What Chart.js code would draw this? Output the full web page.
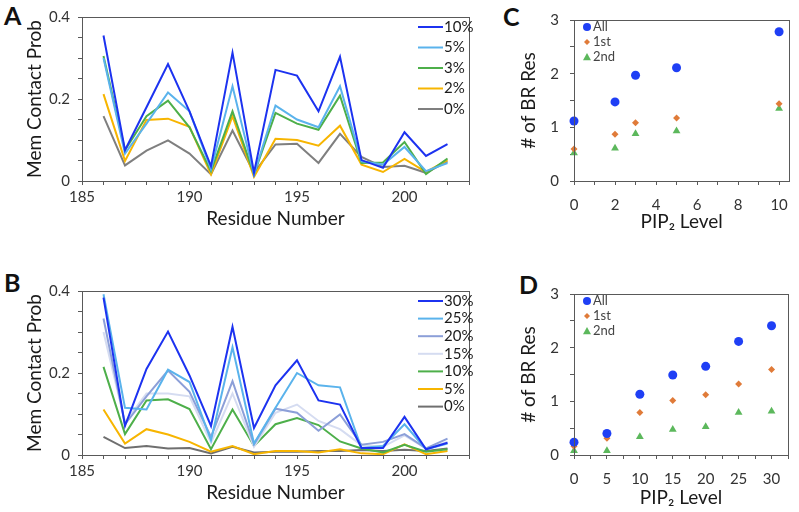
<!DOCTYPE html>
<html>
<head>
<meta charset="utf-8">
<script src="https://cdn.jsdelivr.net/npm/chart.js@4.4.1/dist/chart.umd.min.js"></script>
<style>
  body { margin: 0; width: 799px; height: 512px; overflow: hidden; background: #fff; position: relative; }
  canvas { position: absolute; }
  .tag { position: absolute; font: bold 25px Lato, sans-serif; color: #111; line-height: 1; }
</style>
</head>
<body>
<div class="tag" style="left:4px;top:3px">A</div>
<div class="tag" style="left:4px;top:270px">B</div>
<div class="tag" style="left:503px;top:4px">C</div>
<div class="tag" style="left:519px;top:272px">D</div>
<canvas id="chartA" width="480" height="240" style="left:0;top:0"></canvas>
<canvas id="chartB" width="480" height="240" style="left:0;top:274px"></canvas>
<canvas id="chartC" width="319" height="240" style="left:480px;top:0"></canvas>
<canvas id="chartD" width="319" height="240" style="left:480px;top:274px"></canvas>
<script>
// residues on the x axis of A and B
const residues = [186, 187, 188, 189, 190, 191, 192, 193, 194, 195, 196, 197, 198, 199, 200, 201, 202];

// panel A, one array per PIP2 level
const aLabels = ["10%", "5%", "3%", "2%", "0%"];
const a10 = [0.355, 0.075, 0.18, 0.285, 0.17, 0.036, 0.313, 0.02, 0.271, 0.257, 0.17, 0.303, 0.051, 0.032, 0.119, 0.061, 0.09];
const a5  = [0.30, 0.067, 0.14, 0.216, 0.17, 0.028, 0.231, 0.016, 0.184, 0.15, 0.131, 0.231, 0.048, 0.04, 0.083, 0.024, 0.044];
const a3  = [0.305, 0.075, 0.158, 0.196, 0.131, 0.024, 0.17, 0.016, 0.166, 0.14, 0.125, 0.208, 0.044, 0.045, 0.095, 0.017, 0.055];
const a2  = [0.212, 0.049, 0.149, 0.152, 0.132, 0.016, 0.158, 0.01, 0.103, 0.1, 0.086, 0.135, 0.04, 0.022, 0.054, 0.022, 0.051];
const a0  = [0.158, 0.038, 0.074, 0.099, 0.067, 0.016, 0.123, 0.02, 0.089, 0.091, 0.044, 0.115, 0.059, 0.034, 0.037, 0.02, 0.048];

// panel B
const bLabels = ["30%", "25%", "20%", "15%", "10%", "5%", "0%"];
const b30 = [0.384, 0.071, 0.21, 0.301, 0.194, 0.071, 0.313, 0.066, 0.17, 0.231, 0.133, 0.123, 0.017, 0.017, 0.093, 0.014, 0.03];
const b25 = [0.392, 0.115, 0.111, 0.208, 0.178, 0.036, 0.263, 0.028, 0.115, 0.2, 0.17, 0.165, 0.017, 0.022, 0.075, 0.014, 0.028];
const b20 = [0.333, 0.075, 0.143, 0.206, 0.154, 0.044, 0.18, 0.026, 0.113, 0.103, 0.059, 0.099, 0.025, 0.032, 0.051, 0.016, 0.04];
const b15 = [0.30, 0.08, 0.15, 0.15, 0.143, 0.03, 0.15, 0.02, 0.103, 0.123, 0.083, 0.063, 0.024, 0.02, 0.048, 0.016, 0.032];
const b10 = [0.215, 0.051, 0.133, 0.136, 0.112, 0.014, 0.111, 0.022, 0.075, 0.09, 0.073, 0.033, 0.016, 0.006, 0.025, 0.008, 0.014];
const b5  = [0.111, 0.028, 0.063, 0.05, 0.032, 0.008, 0.022, 0.002, 0.01, 0.01, 0.006, 0.014, 0.004, 0.002, 0.026, 0.002, 0.01];
const b0  = [0.044, 0.017, 0.022, 0.016, 0.017, 0.004, 0.02, 0.006, 0.008, 0.008, 0.01, 0.01, 0.012, 0.01, 0.013, 0.01, 0.016];

// panels C and D: number of basic residues vs PIP2 level
const cLevels = [0, 2, 3, 5, 10];
const cAll = [1.117, 1.474, 1.97, 2.11, 2.78];
const c1st = [0.594, 0.873, 1.087, 1.176, 1.438];
const c2nd = [0.523, 0.612, 0.879, 0.933, 1.349];

const dLevels = [0, 5, 10, 15, 20, 25, 30];
const dAll = [0.239, 0.40, 1.133, 1.49, 1.652, 2.117, 2.409];
const d1st = [0.161, 0.31, 0.793, 1.014, 1.121, 1.324, 1.592];
const d2nd = [0.08, 0.08, 0.34, 0.477, 0.525, 0.793, 0.817];

const scatterNames = ["All", "1st", "2nd"];

Chart.defaults.font.family = "Lato, sans-serif";
Chart.defaults.animation = false;

const axisGray = "#595959";

const pts = (xs, ys) => xs.map((x, i) => ({ x: x, y: ys[i] }));

// box round the plot area
const frame = {
    id: "frame",
    afterDraw(chart) {
        const a = chart.chartArea, ctx = chart.ctx;
        ctx.save();
        ctx.strokeStyle = axisGray;
        ctx.lineWidth = 1;
        ctx.strokeRect(Math.round(a.left) + 0.5, Math.round(a.top) + 0.5, Math.round(a.right - a.left), Math.round(a.bottom - a.top));
        ctx.restore();
    }
};

// legend drawn inside the plot
const insideLegend = {
    id: "insideLegend",
    afterDraw(chart, args, o) {
        const ctx = chart.ctx;
        ctx.save();
        ctx.font = o.font;
        ctx.textBaseline = "middle";
        chart.data.datasets.forEach((ds, i) => {
            const y = o.y + i * o.gap;
            if (o.kind === "line") {
                ctx.strokeStyle = ds.borderColor;
                ctx.lineWidth = 2;
                ctx.beginPath();
                ctx.moveTo(o.x, y);
                ctx.lineTo(o.x + 25, y);
                ctx.stroke();
                ctx.fillStyle = "#1a1a1a";
                ctx.fillText(ds.label, o.x + 26, y);
            } else {
                ctx.fillStyle = ds.backgroundColor;
                const r = ds.pointRadius - 0.5;
                ctx.beginPath();
                if (ds.pointStyle === "circle") {
                    ctx.arc(o.x, y, r, 0, Math.PI * 2);
                } else if (ds.pointStyle === "rectRot") {
                    ctx.moveTo(o.x, y - r); ctx.lineTo(o.x + r, y); ctx.lineTo(o.x, y + r); ctx.lineTo(o.x - r, y);
                } else {
                    ctx.moveTo(o.x, y - r); ctx.lineTo(o.x + r, y + r * 0.8); ctx.lineTo(o.x - r, y + r * 0.8);
                }
                ctx.closePath();
                ctx.fill();
                ctx.fillStyle = "#444";
                ctx.fillText(ds.label, o.x + 6, y);
            }
        });
        ctx.restore();
    }
};

function axisX(min, max, step, every, fontSize, pad, title, titlePad) {
    return {
        type: "linear", min: min, max: max,
        afterFit: s => { s.height = 59; },
        grid: { drawOnChartArea: false, drawTicks: true, tickLength: 4, tickColor: axisGray },
        border: { color: axisGray },
        ticks: {
            stepSize: step, autoSkip: false, maxRotation: 0, padding: pad, includeBounds: false,
            color: "#333", font: { size: fontSize },
            callback: v => (Math.abs(v / every - Math.round(v / every)) < 1e-6 ? String(Math.round(v)) : "")
        },
        title: { display: true, text: title, color: "#1a1a1a", font: { size: 19 }, padding: { top: 0, bottom: titlePad } }
    };
}

function axisY(max, step, every, dec, width, fontSize, pad, title, titlePad) {
    return {
        min: 0, max: max,
        afterFit: s => { s.width = width; },
        grid: { drawOnChartArea: false, drawTicks: true, tickLength: 4, tickColor: axisGray },
        border: { color: axisGray },
        ticks: {
            stepSize: step, autoSkip: false, padding: pad,
            color: "#333", font: { size: fontSize },
            callback: v => (Math.abs(v / every - Math.round(v / every)) < 1e-6 ? String(+v.toFixed(dec)) : "")
        },
        title: { display: true, text: title, color: "#1a1a1a", font: { size: 19 }, padding: { top: titlePad, bottom: 0 } }
    };
}

function lineChart(id, labels, series, colors, legendGap, titlePad) {
    new Chart(document.getElementById(id), {
        type: "line",
        data: {
            datasets: series.map((s, i) => ({
                label: labels[i],
                data: pts(residues, s),
                borderColor: colors[i],
                borderWidth: 2,
                pointRadius: 0,
                tension: 0
            }))
        },
        options: {
            responsive: false,
            layout: { padding: { top: 13, right: 11, bottom: 0, left: 0 } },
            scales: {
                x: axisX(185, 203, 1, 5, 15, 3, "Residue Number", titlePad),
                y: axisY(0.4, 0.05, 0.2, 1, 82, 15, 8, "Mem Contact Prob", 23)
            },
            plugins: {
                legend: { display: false },
                tooltip: { enabled: false },
                insideLegend: { kind: "line", x: 418, y: 27, gap: legendGap, font: "15px Lato, sans-serif" }
            }
        },
        plugins: [frame, insideLegend]
    });
}

lineChart("chartA", aLabels, [a10, a5, a3, a2, a0],
    ["#1c32f0", "#5ab3ec", "#4daf4a", "#f7b500", "#7f7f7f"], 20.5, 10);
lineChart("chartB", bLabels, [b30, b25, b20, b15, b10, b5, b0],
    ["#1c32f0", "#5ab3ec", "#8c9fd8", "#d5dcf1", "#4daf4a", "#f7b500", "#6f6f6f"], 17.6, 10);

function scatterChart(id, xs, all, first, second, xmax, xstep, xevery, titlePad) {
    new Chart(document.getElementById(id), {
        type: "scatter",
        data: {
            datasets: [
                { label: scatterNames[0], data: pts(xs, all), pointStyle: "circle", pointRadius: 4.5, backgroundColor: "#1f3ff5", borderWidth: 0, clip: false },
                { label: scatterNames[1], data: pts(xs, first), pointStyle: "rectRot", pointRadius: 3.5, backgroundColor: "#e07b39", borderWidth: 0, clip: false },
                { label: scatterNames[2], data: pts(xs, second), pointStyle: "triangle", pointRadius: 4.5, backgroundColor: "#5cb85c", borderWidth: 0, clip: false }
            ]
        },
        options: {
            responsive: false,
            layout: { padding: { top: 13, right: 4, bottom: 0, left: 0 } },
            scales: {
                x: axisX(0, xmax, xstep, xevery, 15, 11, "PIP\u2082 Level", titlePad),
                y: axisY(3, 0.5, 1, 0, 94, 15, 11, "# of BR Res", 37)
            },
            plugins: {
                legend: { display: false },
                tooltip: { enabled: false },
                insideLegend: { kind: "point", x: 107, y: 27, gap: 15, font: "13px Lato, sans-serif" }
            }
        },
        plugins: [frame, insideLegend]
    });
}

scatterChart("chartC", cLevels, cAll, c1st, c2nd, 10.5, 1, 2, 7);
scatterChart("chartD", dLevels, dAll, d1st, d2nd, 32.5, 2.5, 5, 5);
</script>
</body>
</html>
